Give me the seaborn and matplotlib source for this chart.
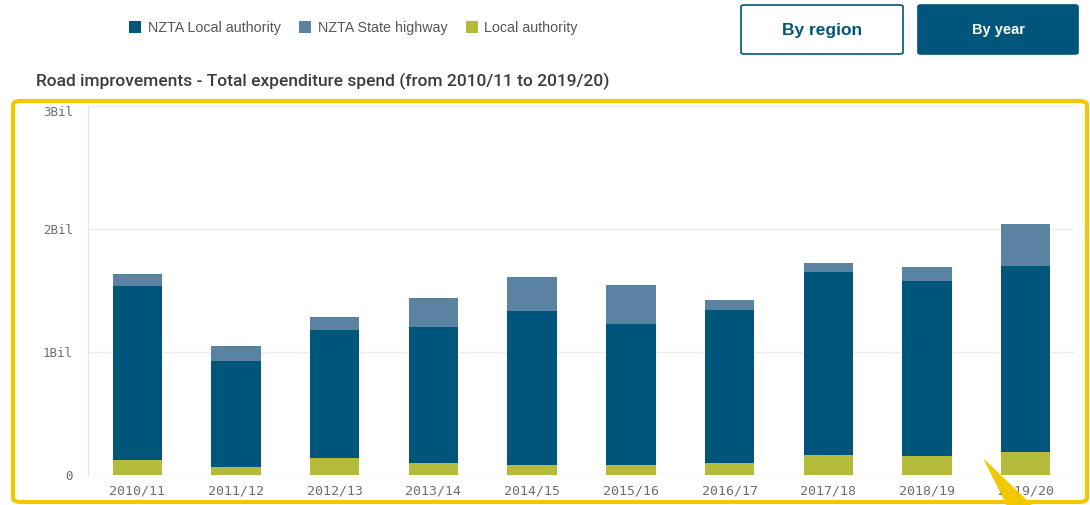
import numpy as np
import pandas as pd
import matplotlib.pyplot as plt
import seaborn as sns
from matplotlib.patches import FancyBboxPatch, Polygon, Patch

# values in billions
years = ["2010/11", "2011/12", "2012/13", "2013/14", "2014/15",
         "2015/16", "2016/17", "2017/18", "2018/19", "2019/20"]
local_authority = [0.122, 0.068, 0.136, 0.098, 0.079, 0.081, 0.095, 0.160, 0.157, 0.187]
nzta_local = [1.412, 0.859, 1.043, 1.102, 1.252, 1.147, 1.246, 1.490, 1.418, 1.509]
nzta_state = [0.103, 0.119, 0.106, 0.236, 0.276, 0.314, 0.084, 0.071, 0.113, 0.342]

series_names = ["NZTA Local authority", "NZTA State highway", "Local authority"]
colors = {"NZTA Local authority": "#00567a",
          "NZTA State highway": "#5a83a2",
          "Local authority": "#b4bb3a"}

y_ticks = [0, 1e9, 2e9, 3e9]
y_labels = ["0", "1Bil", "2Bil", "3Bil"]

df = pd.DataFrame({"Year": years,
                   "Local authority": np.array(local_authority) * 1e9,
                   "NZTA Local authority": np.array(nzta_local) * 1e9,
                   "NZTA State highway": np.array(nzta_state) * 1e9})
# cumulative heights for stacking (drawn back to front)
df["lvl1"] = df["Local authority"]
df["lvl2"] = df["lvl1"] + df["NZTA Local authority"]
df["lvl3"] = df["lvl2"] + df["NZTA State highway"]

W, H = 1090, 505
fig = plt.figure(figsize=(W / 100, H / 100), dpi=100)
fig.patch.set_facecolor("white")

def fx(px):
    return px / W

def fy(py):
    return 1 - py / H

ax = fig.add_axes([fx(88), fy(475), fx(1075) - fx(88), fy(106) - fy(475)])

sns.barplot(data=df, x="Year", y="lvl3", color=colors["NZTA State highway"],
            width=0.5, saturation=1, ax=ax, linewidth=0)
sns.barplot(data=df, x="Year", y="lvl2", color=colors["NZTA Local authority"],
            width=0.5, saturation=1, ax=ax, linewidth=0)
sns.barplot(data=df, x="Year", y="lvl1", color=colors["Local authority"],
            width=0.5, saturation=1, ax=ax, linewidth=0)

ax.set_xlim(-0.5, len(years) - 0.5)
ax.set_ylim(0, 3e9)
ax.set_yticks(y_ticks)
ax.set_yticklabels(y_labels)
ax.set_xlabel("")
ax.set_ylabel("")
for s in ["top", "right", "bottom"]:
    ax.spines[s].set_visible(False)
ax.spines["left"].set_color("#e6e6e6")
ax.spines["left"].set_linewidth(1)
ax.set_axisbelow(True)
ax.grid(axis="y", color="#ececec", linewidth=1)
ax.tick_params(axis="both", length=0)
ax.tick_params(axis="y", pad=11)
ax.tick_params(axis="x", pad=7)
for lab in ax.get_xticklabels():
    lab.set_fontfamily("DejaVu Sans Mono")
    lab.set_fontsize(9.5)
    lab.set_color("#6e6e6e")
for lab in ax.get_yticklabels():
    lab.set_fontfamily("DejaVu Sans Mono")
    lab.set_fontsize(9)
    lab.set_color("#6e6e6e")
# top label sits just under its gridline
ax.get_yticklabels()[-1].set_verticalalignment("top")

# yellow highlight frame and pointer
frame = FancyBboxPatch((fx(13), fy(502)), fx(1087) - fx(13), fy(101) - fy(502),
                       boxstyle="round,pad=0,rounding_size=0.008",
                       transform=fig.transFigure, facecolor="none",
                       edgecolor="#f2c900", linewidth=3, zorder=5)
fig.patches.append(frame)
arrow = Polygon([(fx(983), fy(458)), (fx(1007), fy(506)), (fx(1033), fy(506))],
                closed=True, transform=fig.transFigure, facecolor="#f2c900",
                edgecolor="none", zorder=6)
fig.patches.append(arrow)

# title
fig.text(fx(36), fy(81), "Road improvements - Total expenditure spend (from 2010/11 to 2019/20)",
         fontsize=12.5, color="#3c3c3c", va="center", ha="left", fontweight="medium",
         family=["Roboto", "DejaVu Sans"])

# legend
handles = [Patch(facecolor=colors[n], edgecolor="none") for n in series_names]
leg = fig.legend(handles, series_names, ncol=3, frameon=False,
                 loc="center left", bbox_to_anchor=(fx(129), fy(28)),
                 handlelength=0.85, handleheight=0.85, handletextpad=0.45,
                 columnspacing=1.3, borderaxespad=0, borderpad=0,
                 prop={"family": ["Liberation Sans", "DejaVu Sans"], "size": 10.3})
for t in leg.get_texts():
    t.set_color("#555555")

# buttons
btn1 = FancyBboxPatch((fx(741), fy(54)), fx(903) - fx(741), fy(5) - fy(54),
                      boxstyle="round,pad=0,rounding_size=0.003",
                      transform=fig.transFigure, facecolor="white",
                      edgecolor="#00567a", linewidth=1.2)
fig.patches.append(btn1)
fig.text(fx(822), fy(30), "By region", ha="center", va="center",
         fontsize=12.5, fontweight="bold", color="#00567a",
         family=["Liberation Sans", "DejaVu Sans"])
btn2 = FancyBboxPatch((fx(918), fy(54)), fx(1078) - fx(918), fy(5) - fy(54),
                      boxstyle="round,pad=0,rounding_size=0.003",
                      transform=fig.transFigure, facecolor="#00567a",
                      edgecolor="#00567a", linewidth=1.2)
fig.patches.append(btn2)
fig.text(fx(998), fy(30), "By year", ha="center", va="center",
         fontsize=10.5, fontweight="bold", color="white",
         family=["Liberation Sans", "DejaVu Sans"])

fig.savefig("out.png", dpi=100)
